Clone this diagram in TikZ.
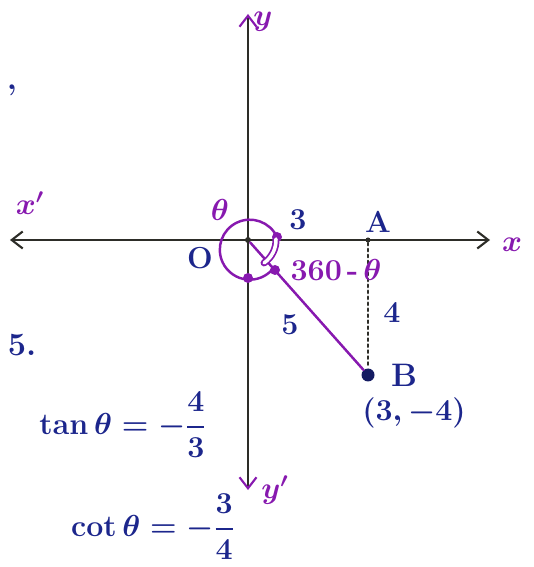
\documentclass[tikz,border=0pt]{standalone}
\usepackage{amsmath}
\usepackage{tikz}
\usetikzlibrary{arrows.meta,positioning}
\definecolor{inkpurple}{RGB}{135,25,175}
\definecolor{inkblue}{RGB}{28,38,140}
\definecolor{inkgray}{RGB}{45,45,40}

\begin{document}
\begin{tikzpicture}[x=0.2mm,y=0.2mm,
    axis/.style={line width=1.5pt, inkgray, {Straight Barb[length=2.2mm, width=3.4mm, line width=1.2pt]}-{Straight Barb[length=2.2mm, width=3.4mm, line width=1.2pt]}},
    paxis/.style={line width=1.5pt, inkgray, {Straight Barb[length=2.2mm, width=3.4mm, line width=1.2pt, color=inkpurple]}-{Straight Barb[length=2.2mm, width=3.4mm, line width=1.2pt, color=inkpurple]}},
    lbl/.style={font=\LARGE\bfseries\boldmath, text=inkblue, inner sep=1pt},
    blbl/.style={font=\fontsize{18.5}{22}\selectfont\bfseries\boldmath, text=inkblue, inner sep=1pt},
    plbl/.style={font=\LARGE\bfseries\boldmath, text=inkpurple, inner sep=1pt},
    dot/.style={circle, fill=inkpurple, inner sep=0pt, minimum size=2mm},
    seg/.style={line width=1.4pt, inkpurple},
    every path/.style={line cap=round}
  ]
    \path[use as bounding box] (-248,-327) rectangle (285,240);
    % axes
    \coordinate (O) at (0,0);
    \coordinate (xl) at (-238,0);
    \coordinate (xr) at (242,0);
    \coordinate (yt) at (0,226);
    \coordinate (yb) at (0,-250);
    \draw[axis] (xl) -- (xr);
    \draw[paxis] (yt) -- (yb);

    \node[circle, fill=inkgray, inner sep=0pt, minimum size=1.2mm] (o) at (O) {};
    \node[circle, fill=inkgray, inner sep=0pt, minimum size=1mm] (A) at (120,0) {};
    \node[circle, fill=inkblue!70!black, inner sep=0pt, minimum size=2.6mm] (B) at (120,-135) {};

    % triangle sides
    \draw[seg] (o) -- (B);
    \draw[line width=1.4pt, dotted, inkgray] (A) -- (B);

    % angle loop
    \node[dot] (p1) at (29,3) {};
    \node[dot] (p2) at (0,-38) {};
    \node[dot] (p3) at (27,-30) {};
    \draw[seg] (p1) arc[start angle=25, end angle=318, radius=30];
    \draw[inkpurple, line width=1pt, double, double distance=2pt] (28,1) arc[start angle=2, end angle=-55, radius=28];

    % labels
    \node[plbl] (ly) at (15,218) {$y$};
    \node[plbl] (lx1) at (-218,37) {$x'$};
    \node[plbl] (lx) at (264,-5) {$x$};
    \node[plbl] (ly1) at (27,-250) {$y'$};
    \node[lbl] (lo) at (-48,-18) {O};
    \node[plbl] (lt) at (-28,30) {$\theta$};
    \node[lbl] (l3) at (50,20) {3};
    \node[lbl, above right=2pt and -4pt of A] (lA) {A};
    \node[plbl] (l360) at (88,-30) {360\,-\,$\theta$};
    \node[lbl] (l4) at (144,-73) {4};
    \node[lbl] (l5) at (42,-85) {5};
    \node[blbl, right=8pt of B] (lB) {B};
    \node[blbl] (lpt) at (166,-173) {$(3,-4)$};

    \node[blbl] (c) at (-236,150) {,};
    \node[blbl] (n5) at (-226,-105) {5.};
    \node[blbl] (tan) at (-125,-185) {$\tan\theta = -\dfrac{4}{3}$};
    \node[blbl] (cot) at (-95,-287) {$\cot\theta = -\dfrac{3}{4}$};
  \end{tikzpicture}
\end{document}
